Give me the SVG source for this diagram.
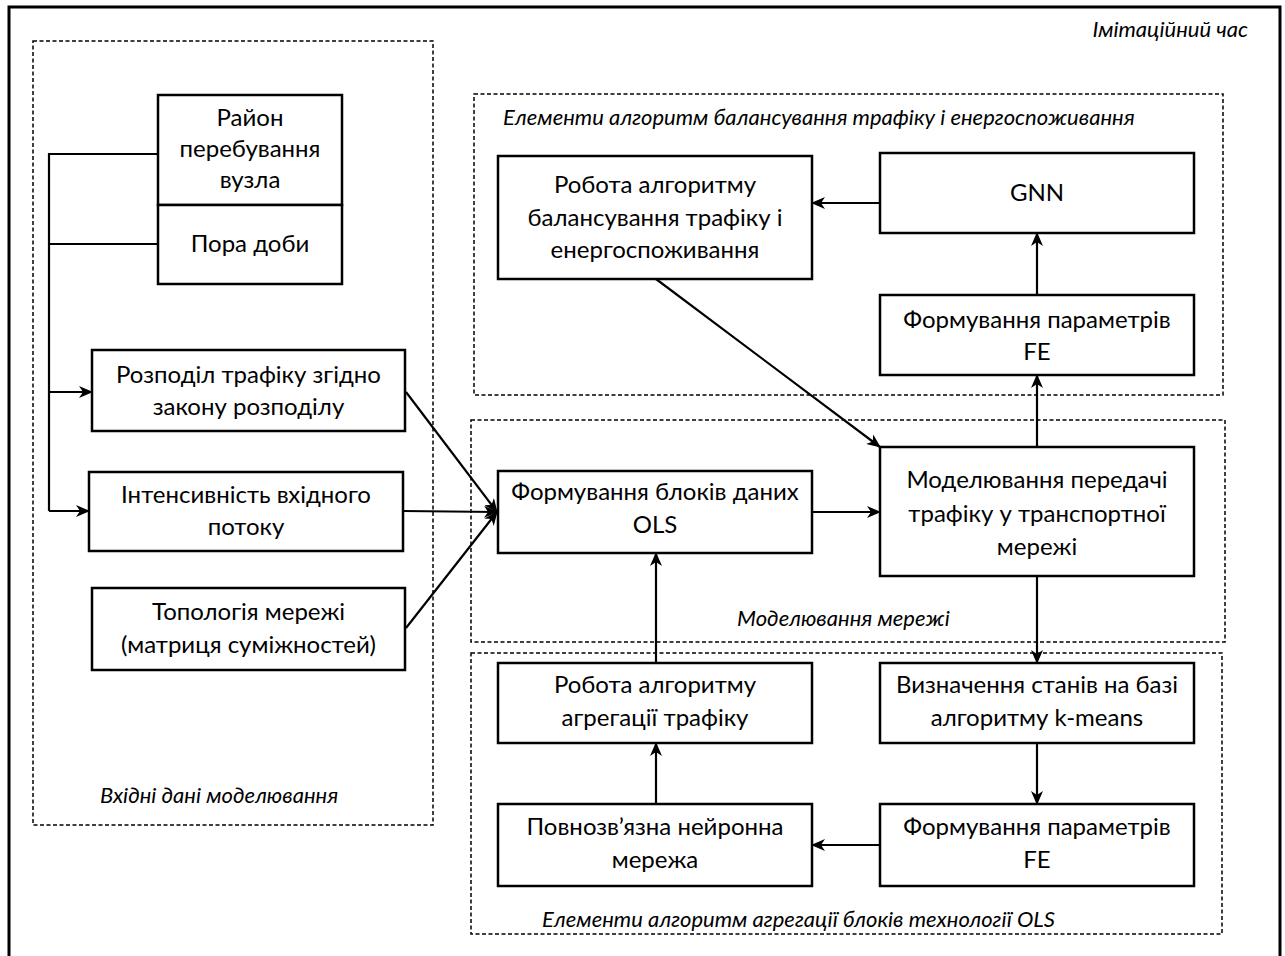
<svg xmlns="http://www.w3.org/2000/svg" width="1285" height="956" viewBox="0 0 1285 956">
<style>
.bg{fill:#fff}
.frame{fill:none;stroke:#000;stroke-width:3}
.grp{fill:none;stroke:#000;stroke-width:1.5;stroke-dasharray:4 2.5}
.box{fill:#fff;stroke:#000;stroke-width:2.5}
.t{font-family:Lato,"Open Sans","Liberation Sans",sans-serif;font-size:24px;fill:#000;text-anchor:middle}
.lbl{font-family:Lato,"Open Sans","Liberation Sans",sans-serif;font-size:22px;font-style:italic;fill:#000}
.c{fill:none;stroke:#000;stroke-width:2.2}
.a{marker-end:url(#arr)}
</style>
<defs>
<marker id="arr" markerUnits="userSpaceOnUse" markerWidth="14" markerHeight="12" viewBox="0 0 14 12" refX="13" refY="6" orient="auto">
<path d="M0,0 L14,6 L0,12 L4,6 Z" fill="#000"/>
</marker>
</defs>
<rect class="bg" x="0" y="0" width="1285" height="956"/>
<path class="frame" d="M9,960 V7 H1280 V960"/>
<text class="lbl" x="1248" y="37" text-anchor="end">Імітаційний час</text>

<g id="group-input">
<rect class="grp" x="33" y="41" width="400" height="784"/>
<text class="lbl" x="100" y="803">Вхідні дані моделювання</text>
</g>
<g id="group-balance">
<rect class="grp" x="474" y="94" width="749" height="301"/>
<text class="lbl" x="503" y="125">Елементи алгоритм балансування трафіку і енергоспоживання</text>
</g>
<g id="group-network">
<rect class="grp" x="471" y="420" width="754" height="222"/>
<text class="lbl" x="737" y="626">Моделювання мережі</text>
</g>
<g id="group-aggregation">
<rect class="grp" x="471" y="653" width="751" height="281"/>
<text class="lbl" x="542" y="927">Елементи алгоритм агрегації блоків технології OLS</text>
</g>

<g id="connectors">
<path class="c" d="M158,154 H49 V511"/>
<path class="c" d="M158,244 H49"/>
<path class="c a" d="M49,392 H92"/>
<path class="c a" d="M49,511 H89"/>
<path class="c a" d="M406,392 L497,512"/>
<path class="c a" d="M403,511 L497,512"/>
<path class="c a" d="M406,628 L497,512"/>
<path class="c a" d="M812,512 H880"/>
<path class="c a" d="M656,279 L880,447"/>
<path class="c a" d="M1037,447 V375"/>
<path class="c a" d="M1037,295 V233"/>
<path class="c a" d="M880,203 H812"/>
<path class="c a" d="M1037,576 V663"/>
<path class="c a" d="M1037,743 V804"/>
<path class="c a" d="M880,845 H812"/>
<path class="c a" d="M656,804 V743"/>
<path class="c a" d="M656,663 V553"/>
</g>

<g id="node-rayon">
<rect class="box" x="158" y="95" width="184" height="110"/>
<text class="t" x="250" y="126">Район</text>
<text class="t" x="250" y="157">перебування</text>
<text class="t" x="250" y="188">вузла</text>
</g>
<g id="node-pora">
<rect class="box" x="158" y="205" width="184" height="79"/>
<text class="t" x="250" y="252">Пора доби</text>
</g>
<g id="node-rozpodil">
<rect class="box" x="92" y="350" width="313" height="81"/>
<text class="t" x="248.5" y="383">Розподіл трафіку згідно</text>
<text class="t" x="248.5" y="415">закону розподілу</text>
</g>
<g id="node-intens">
<rect class="box" x="89" y="472" width="314" height="79"/>
<text class="t" x="246" y="503">Інтенсивність вхідного</text>
<text class="t" x="246" y="535">потоку</text>
</g>
<g id="node-topology">
<rect class="box" x="92" y="588" width="313" height="82"/>
<text class="t" x="248.5" y="620">Топологія мережі</text>
<text class="t" x="248.5" y="653">(матриця суміжностей)</text>
</g>
<g id="node-balance-algo">
<rect class="box" x="498" y="156" width="314" height="123"/>
<text class="t" x="655" y="193">Робота алгоритму</text>
<text class="t" x="655" y="226">балансування трафіку і</text>
<text class="t" x="655" y="258">енергоспоживання</text>
</g>
<g id="node-gnn">
<rect class="box" x="880" y="153" width="314" height="80"/>
<text class="t" x="1037" y="201">GNN</text>
</g>
<g id="node-fe-top">
<rect class="box" x="880" y="295" width="314" height="80"/>
<text class="t" x="1037" y="328">Формування параметрів</text>
<text class="t" x="1037" y="360">FE</text>
</g>
<g id="node-ols">
<rect class="box" x="498" y="471" width="314" height="82"/>
<text class="t" x="655" y="500">Формування блоків даних</text>
<text class="t" x="655" y="533">OLS</text>
</g>
<g id="node-model">
<rect class="box" x="880" y="447" width="314" height="129"/>
<text class="t" x="1037" y="488">Моделювання передачі</text>
<text class="t" x="1037" y="522">трафіку у транспортної</text>
<text class="t" x="1037" y="555">мережі</text>
</g>
<g id="node-agg-algo">
<rect class="box" x="498" y="663" width="314" height="80"/>
<text class="t" x="655" y="693">Робота алгоритму</text>
<text class="t" x="655" y="726">агрегації трафіку</text>
</g>
<g id="node-kmeans">
<rect class="box" x="880" y="663" width="314" height="80"/>
<text class="t" x="1037" y="693">Визначення станів на базі</text>
<text class="t" x="1037" y="726">алгоритму k-means</text>
</g>
<g id="node-fcnn">
<rect class="box" x="498" y="804" width="314" height="82"/>
<text class="t" x="655" y="835">Повнозв’язна нейронна</text>
<text class="t" x="655" y="868">мережа</text>
</g>
<g id="node-fe-bottom">
<rect class="box" x="880" y="804" width="314" height="82"/>
<text class="t" x="1037" y="835">Формування параметрів</text>
<text class="t" x="1037" y="868">FE</text>
</g>
</svg>
